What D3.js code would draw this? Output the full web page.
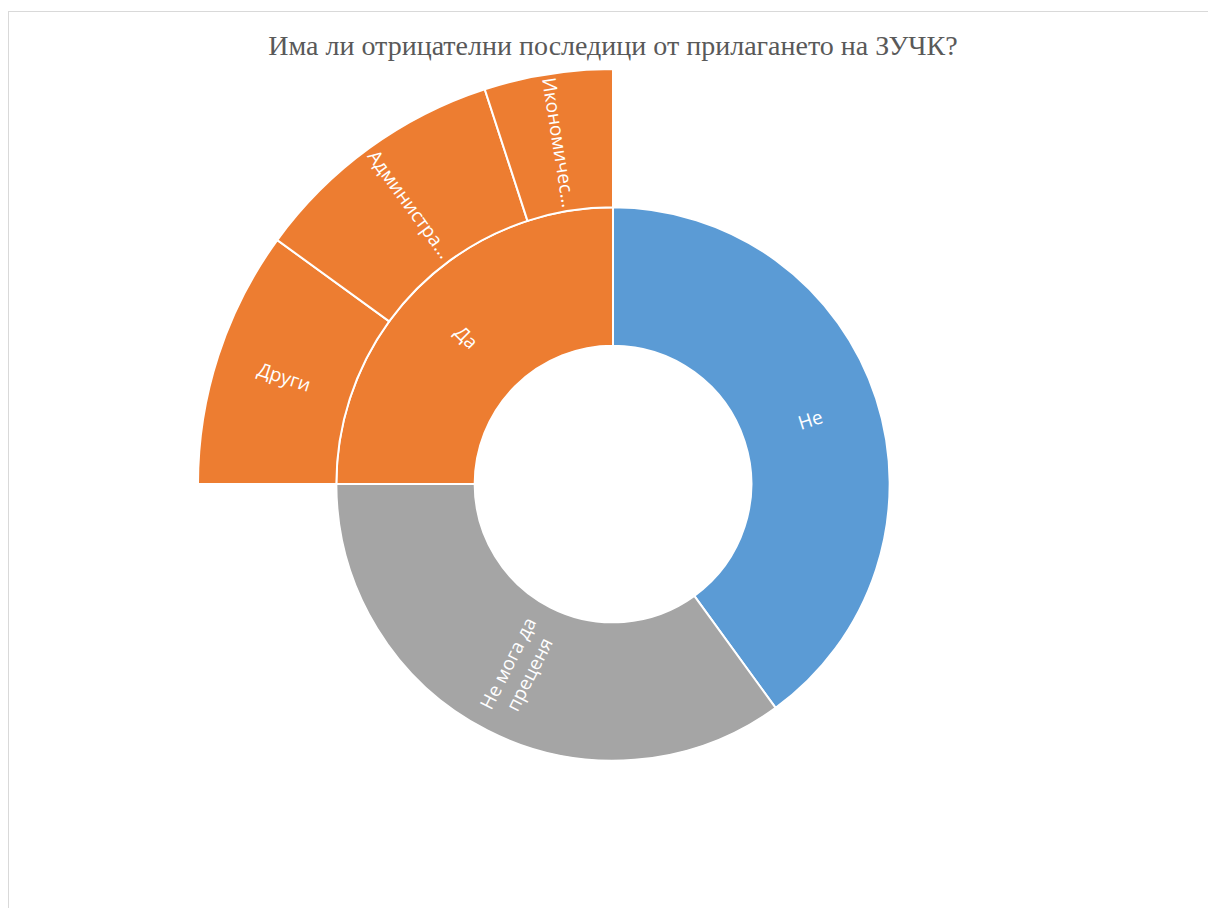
<!DOCTYPE html>
<html>
<head>
<meta charset="utf-8">
<script src="https://d3js.org/d3.v7.min.js"></script>
<style>
  body { margin: 0; background: #fff; }
</style>
</head>
<body>
<div id="chart-area"></div>
<script>
// Data
var title = "Има ли отрицателни последици от прилагането на ЗУЧК?";
var topLabels = ["Не", "Не мога да преценя", "Да"];
var topValues = [40, 35, 25];
var daLabels = ["Други", "Администра…", "Икономичес…"];
var daValues = [10, 10, 5];
var colors = ["#5b9bd5", "#a5a5a5", "#ed7d31"];

var width = 1208;
var height = 908;
var cx = 613;
var cy = 484;
var outerRadius = 415;

var svg = d3.select("#chart-area")
  .append("svg")
  .attr("width", width)
  .attr("height", height);

// Chart frame
svg.append("rect")
  .attr("x", 8.5)
  .attr("y", 11.5)
  .attr("width", width + 10)
  .attr("height", height + 10)
  .attr("fill", "#fff")
  .attr("stroke", "#d9d9d9")
  .attr("stroke-width", 1);

// Title
svg.append("text")
  .attr("x", cx)
  .attr("y", 55)
  .attr("text-anchor", "middle")
  .attr("font-family", "'Liberation Serif', 'Times New Roman', serif")
  .attr("font-size", "28px")
  .attr("fill", "#595959")
  .text(title);

// Build hierarchy
var tree = {
  name: "root",
  children: topLabels.map(function(name, i) {
    var node = { name: name, color: colors[i] };
    if (name === "Да") {
      node.children = daLabels.map(function(n, j) {
        return { name: n, value: daValues[j], color: colors[i] };
      });
    } else {
      node.value = topValues[i];
    }
    return node;
  })
};

var root = d3.hierarchy(tree).sum(function(d) { return d.value || 0; });
d3.partition().size([2 * Math.PI, 3])(root);

var r = d3.scaleLinear().domain([0, 3]).range([0, outerRadius]);

var arc = d3.arc()
  .startAngle(function(d) { return d.x0; })
  .endAngle(function(d) { return d.x1; })
  .innerRadius(function(d) { return r(d.y0); })
  .outerRadius(function(d) { return r(d.y1); });

var g = svg.append("g")
  .attr("transform", "translate(" + cx + "," + cy + ")");

var nodes = root.descendants().filter(function(d) { return d.depth > 0; });

g.selectAll("path")
  .data(nodes)
  .enter()
  .append("path")
  .attr("d", arc)
  .attr("fill", function(d) { return d.data.color; })
  .attr("stroke", "#fff")
  .attr("stroke-width", 2);

// Labels, rotated along the radius
var lines = {
  "Не мога да преценя": ["Не мога да", "преценя"]
};

var labels = g.selectAll("text.lbl")
  .data(nodes)
  .enter()
  .append("text")
  .attr("class", "lbl")
  .attr("transform", function(d) {
    var a = (d.x0 + d.x1) / 2;
    var rr = r((d.y0 + d.y1) / 2);
    var x = rr * Math.sin(a);
    var y = -rr * Math.cos(a);
    var deg = a * 180 / Math.PI - 90;
    if (deg > 90) deg -= 180;
    return "translate(" + x + "," + y + ") rotate(" + deg + ")";
  })
  .attr("text-anchor", "middle")
  .attr("font-family", "'Open Sans', 'Noto Sans', sans-serif")
  .attr("font-size", "19px")
  .attr("fill", "#fff");

labels.each(function(d) {
  var parts = lines[d.data.name] || [d.data.name];
  var t = d3.select(this);
  var lh = 24;
  parts.forEach(function(p, i) {
    t.append("tspan")
      .attr("x", 0)
      .attr("y", (i - (parts.length - 1) / 2) * lh)
      .attr("dy", "0.35em")
      .text(p);
  });
});
</script>
</body>
</html>
